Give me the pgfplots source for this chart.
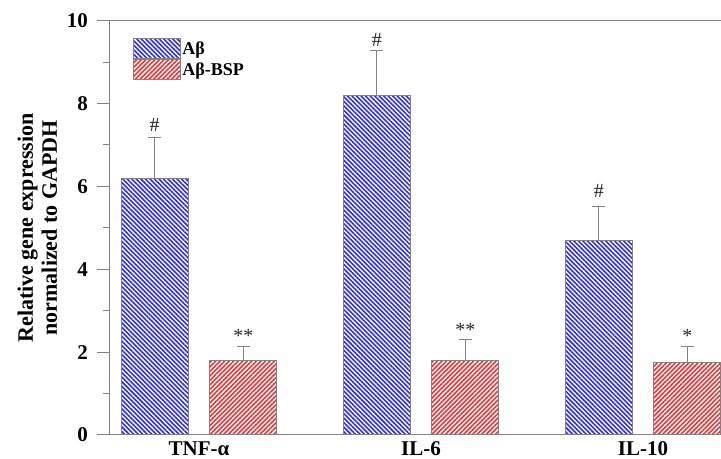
\documentclass[border=0pt]{standalone}
\usepackage{fontspec}
\setmainfont{Liberation Serif}
\usepackage{pgfplots}
\pgfplotsset{compat=1.18}
\usetikzlibrary{patterns.meta}
\definecolor{barblue}{RGB}{45,45,240}
\definecolor{barred}{RGB}{240,50,50}
\definecolor{axgray}{RGB}{130,130,130}
\begin{document}
\begin{tikzpicture}
\begin{axis}[
  scale only axis, width=611pt, height=414.3pt,
  xmin=-0.401, xmax=2.351, ymin=0, ymax=10,
  ybar=21.6pt, bar width=67pt,
  axis lines=left, axis line style={-, draw=axgray, line width=1pt},
  ytick={0,2,4,6,8,10}, minor ytick={1,3,5,7,9},
  tick align=outside, major tick length=13pt, minor tick length=7pt,
  tick style={axgray, line width=1pt},
  xtick={0,1,2}, xticklabels={TNF-α, IL-6, IL-10},
  major x tick style={draw=none},
  /pgf/number format/assume math mode=true,
  ticklabel style={font=\fontsize{21}{21}\selectfont\bfseries, text=black},
  xticklabel style={inner sep=0pt, yshift=6.5pt},
  yticklabel style={inner sep=0pt, xshift=-9pt},
  ylabel={Relative gene expression\\normalized to GAPDH},
  ylabel style={font=\fontsize{22}{24}\selectfont\bfseries, align=center, at={(axis description cs:-0.119,0.5)}, anchor=center},
  legend style={draw=none, fill=none, at={(axis description cs:0.0372,0.9575)}, anchor=north west, inner sep=0pt, row sep=0pt,
    font=\fontsize{18}{18}\selectfont\bfseries, nodes={inner sep=1.5pt}, cells={anchor=west}},
  legend image code/.code={\draw[#1] (0pt,-10pt) rectangle (47pt,10pt);},
  error bars/y dir=plus, error bars/y explicit,
  error bars/error bar style={axgray, line width=1pt},
  error bars/error mark options={axgray, rotate=90, mark size=6.5pt, line width=1pt},
]
\addplot[draw=axgray, line width=1pt,
  pattern={Lines[angle=-45,distance=3.2pt,line width=1.6pt]}, pattern color=barblue]
  coordinates {(0,6.19) +- (0,1.0) (1,8.19) +- (0,1.09) (2,4.69) +- (0,0.82)};
\addlegendentry{Aβ}
\addplot[draw=axgray, line width=1pt,
  pattern={Lines[angle=45,distance=3.2pt,line width=1.6pt]}, pattern color=barred]
  coordinates {(0,1.79) +- (0,0.35) (1,1.79) +- (0,0.52) (2,1.75) +- (0,0.39)};
\addlegendentry{Aβ-BSP}
\draw[axgray, line width=1pt] (rel axis cs:0,1) -- (rel axis cs:1,1);
\begin{scope}[every node/.style={font=\fontsize{20}{20}\selectfont, text=black!85, inner sep=0pt}]
\node at (axis cs:-0.1995,7.49) {\#};
\node at (axis cs:0.8005,9.54) {\#};
\node at (axis cs:1.8005,5.88) {\#};
\node at (axis cs:0.1995,2.40) {**};
\node at (axis cs:1.1995,2.53) {**};
\node at (axis cs:2.1995,2.40) {*};
\end{scope}
\end{axis}
\pgfresetboundingbox
\path ([xshift=-110pt,yshift=-24pt]current axis.south west) rectangle ([yshift=20.7pt]current axis.north east);
\end{tikzpicture}
\end{document}
